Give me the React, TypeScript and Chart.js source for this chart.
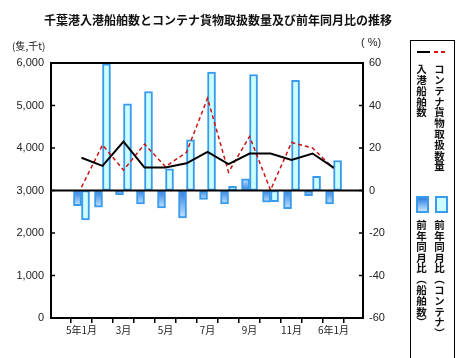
import React, { useEffect, useRef } from 'react';
import { Chart, registerables } from 'chart.js';

Chart.register(...registerables);

const months = ['5年1月', '2月', '3月', '4月', '5月', '6月', '7月', '8月', '9月', '10月', '11月', '12月', '6年1月'];
const shipCalls = [3770, 3580, 4150, 3540, 3540, 3640, 3910, 3620, 3870, 3870, 3720, 3870, 3540];
const containerVolume = [3080, 4070, 3480, 4090, 3560, 3900, 5170, 3430, 4270, 3010, 4130, 4000, 3520];
const shipYoY = [-7.1, -7.8, -2.0, -6.3, -8.2, -12.9, -4.2, -6.3, 5.5, -5.5, -8.6, -2.4, -6.3];
const containerYoY = [-13.8, 59.6, 40.8, 46.6, 10.2, 23.8, 55.7, 2.0, 54.6, -5.2, 51.8, 6.7, 14.1];

const title = '千葉港入港船舶数とコンテナ貨物取扱数量及び前年同月比の推移';
const leftUnit = '(隻,千t)';
const rightUnit = '( %)';
const legendShip = '入港船舶数';
const legendContainer = 'コンテナ貨物取扱数量';
const legendShipYoY = '前年同月比（船舶数）';
const legendContainerYoY = '前年同月比（コンテナ）';

const DARK = '#2f7de0';
const LIGHT = '#c4e6ff';
const BORDER = '#3a9aec';
const CYAN = '#ccffff';

const framePlugin = {
  id: 'frame',
  afterDatasetsDraw(chart: any) {
    const { ctx, chartArea: a, scales } = chart;
    ctx.save();
    ctx.strokeStyle = '#000';
    ctx.lineWidth = 2;
    const y0 = scales.y1.getPixelForValue(0);
    ctx.beginPath();
    ctx.moveTo(a.left, y0);
    ctx.lineTo(a.right, y0);
    ctx.stroke();
    ctx.strokeRect(a.left, a.top, a.right - a.left, a.bottom - a.top);
    ctx.lineWidth = 1.5;
    scales.y.ticks.forEach((t: any) => {
      const p = scales.y.getPixelForValue(t.value);
      ctx.beginPath();
      ctx.moveTo(a.left, p);
      ctx.lineTo(a.left + 4, p);
      ctx.stroke();
    });
    scales.y1.ticks.forEach((t: any) => {
      const p = scales.y1.getPixelForValue(t.value);
      ctx.beginPath();
      ctx.moveTo(a.right - 4, p);
      ctx.lineTo(a.right, p);
      ctx.stroke();
    });
    ctx.restore();
  },
};

export default function App() {
  const ref = useRef<HTMLCanvasElement | null>(null);

  useEffect(() => {
    document.body.style.margin = '0';
    const canvas = ref.current;
    if (!canvas) return;

    const shipFill = (c: any) => {
      const chart = c.chart;
      if (!chart.chartArea || c.type !== 'data' || !chart.scales.y1) return DARK;
      const s = chart.scales.y1;
      const v = c.parsed ? c.parsed.y : 0;
      const p0 = s.getPixelForValue(0);
      const p1 = s.getPixelForValue(v);
      if (Math.abs(p1 - p0) < 1) return DARK;
      const g = chart.ctx.createLinearGradient(0, p0, 0, p1);
      g.addColorStop(0, DARK);
      g.addColorStop(1, LIGHT);
      return g;
    };

    const chart = new Chart(canvas, {
      type: 'bar',
      data: {
        datasets: [
          {
            type: 'line',
            label: legendShip,
            data: shipCalls.map((v, i) => ({ x: i, y: v })),
            yAxisID: 'y',
            borderColor: '#000',
            borderWidth: 2,
            pointRadius: 0,
            tension: 0,
            order: 0,
          } as any,
          {
            type: 'line',
            label: legendContainer,
            data: containerVolume.map((v, i) => ({ x: i, y: v })),
            yAxisID: 'y',
            borderColor: '#cc1111',
            borderWidth: 1.5,
            borderDash: [4, 3],
            pointRadius: 0,
            tension: 0,
            order: 0,
          } as any,
          {
            type: 'bar',
            label: legendShipYoY,
            data: shipYoY.map((v, i) => ({ x: i, y: v })),
            yAxisID: 'y1',
            backgroundColor: shipFill,
            borderColor: BORDER,
            borderWidth: 2,
            borderSkipped: false,
            barThickness: 8,
            order: 1,
          } as any,
          {
            type: 'bar',
            label: legendContainerYoY,
            data: containerYoY.map((v, i) => ({ x: i, y: v })),
            yAxisID: 'y1',
            backgroundColor: CYAN,
            borderColor: BORDER,
            borderWidth: 2,
            borderSkipped: false,
            barThickness: 8,
            order: 1,
          } as any,
        ],
      },
      options: {
        animation: false,
        responsive: false,
        events: [],
        layout: { padding: { top: 63, left: 0, right: 71, bottom: 0 } },
        plugins: { legend: { display: false }, title: { display: false }, tooltip: { enabled: false } },
        scales: {
          x: {
            type: 'linear',
            min: -0.88,
            max: 12.83,
            afterBuildTicks: (s: any) => {
              s.ticks = months.map((_, i) => ({ value: i }));
            },
            afterFit: (s: any) => {
              s.height = 40;
            },
            border: { display: false },
            grid: { display: true, drawOnChartArea: false, drawTicks: true, tickLength: 5, color: '#000', lineWidth: 1.5 },
            ticks: {
              autoSkip: false,
              maxRotation: 0,
              padding: 1,
              color: '#222',
              font: { family: '"Noto Sans CJK JP", sans-serif', size: 10 },
              callback: (_v: any, i: number) => (i % 2 === 0 ? months[i] : ''),
            },
          },
          y: {
            type: 'linear',
            position: 'left',
            min: 0,
            max: 6000,
            afterFit: (s: any) => {
              s.width = 51;
            },
            border: { display: false },
            grid: { display: false, drawTicks: false },
            ticks: {
              stepSize: 1000,
              padding: 7,
              color: '#222',
              font: { family: '"Liberation Sans", Arial, sans-serif', size: 11 },
              callback: (v: any) => Number(v).toLocaleString('en-US'),
            },
          },
          y1: {
            type: 'linear',
            position: 'right',
            min: -60,
            max: 60,
            afterFit: (s: any) => {
              s.width = 40;
            },
            border: { display: false },
            grid: { display: false, drawTicks: false },
            ticks: {
              stepSize: 20,
              padding: 6,
              color: '#222',
              font: { family: '"Liberation Sans", Arial, sans-serif', size: 11 },
            },
          },
        },
      } as any,
      plugins: [framePlugin],
    });
    return () => chart.destroy();
  }, []);

  const cjk = '"Noto Sans CJK JP", sans-serif';
  const vText = (text: string, left: number, top: number): React.CSSProperties => ({
    position: 'absolute',
    left,
    top,
    writingMode: 'vertical-rl',
    fontFamily: cjk,
    fontSize: 10.5,
    lineHeight: '12px',
    fontWeight: 'bold',
    color: '#111',
    letterSpacing: '0.3px',
    whiteSpace: 'nowrap',
  });

  return (
    <div style={{ position: 'fixed', left: 0, top: 0, width: 474, height: 358, overflow: 'hidden', background: '#fff' }}>
      <canvas ref={ref} width={474} height={358} style={{ position: 'absolute', left: 0, top: 0 }} />
      <div style={{ position: 'absolute', left: 0, width: 436, top: 11, textAlign: 'center', fontFamily: cjk, fontWeight: 'bold', fontSize: 12, color: '#111', whiteSpace: 'nowrap' }}>{title}</div>
      <div style={{ position: 'absolute', left: 12, top: 38, fontFamily: cjk, fontSize: 10, color: '#222', whiteSpace: 'nowrap' }}>{leftUnit}</div>
      <div style={{ position: 'absolute', left: 361, top: 36, fontFamily: '"Liberation Sans", Arial, sans-serif', fontSize: 11, color: '#222', whiteSpace: 'nowrap' }}>{rightUnit}</div>
      <div style={{ position: 'absolute', left: 410, top: 40, width: 45, height: 340, border: '1px solid #000', boxSizing: 'border-box' }} />
      <div style={{ position: 'absolute', left: 417, top: 51, width: 13, height: 2, background: '#000' }} />
      <div style={{ position: 'absolute', left: 434, top: 51, width: 4, height: 2, background: '#dd1111' }} />
      <div style={{ position: 'absolute', left: 441, top: 51, width: 4, height: 2, background: '#dd1111' }} />
      <div style={vText(legendShip, 415, 64)}>{legendShip}</div>
      <div style={vText(legendContainer, 433, 64)}>{legendContainer}</div>
      <div style={{ position: 'absolute', left: 416, top: 196, width: 13, height: 17, boxSizing: 'border-box', border: `2px solid ${BORDER}`, background: `linear-gradient(${DARK}, ${LIGHT})` }} />
      <div style={{ position: 'absolute', left: 435, top: 196, width: 13, height: 17, boxSizing: 'border-box', border: `2px solid ${BORDER}`, background: CYAN }} />
      <div style={vText(legendShipYoY, 415, 220)}>{legendShipYoY}</div>
      <div style={vText(legendContainerYoY, 433, 220)}>{legendContainerYoY}</div>
    </div>
  );
}
